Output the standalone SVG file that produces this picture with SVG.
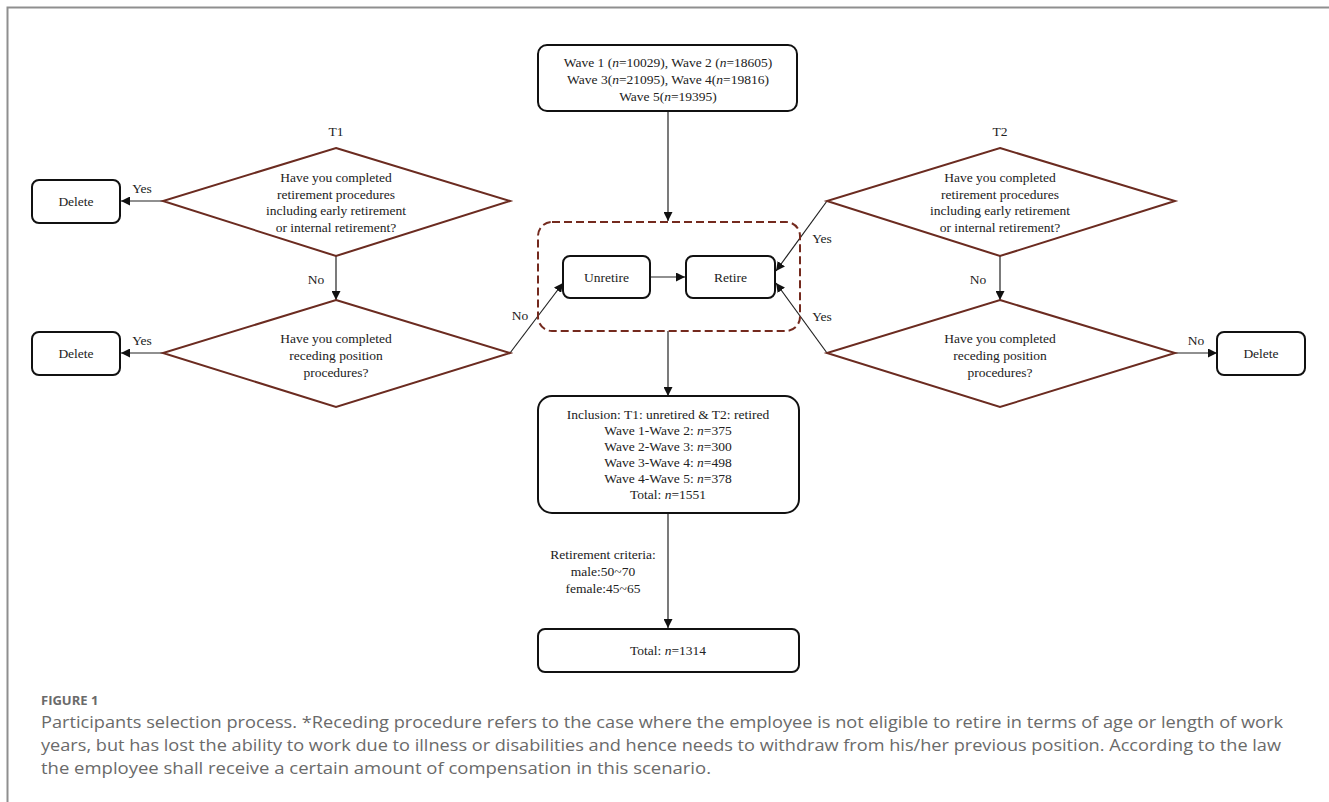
<svg xmlns="http://www.w3.org/2000/svg" width="1329" height="802" viewBox="0 0 1329 802">
<style>
.t{font-family:"Liberation Serif","Times New Roman",serif;font-size:13.5px;fill:#222;text-anchor:middle;dominant-baseline:central}
.i{font-style:italic}
.box{fill:#fff;stroke:#111;stroke-width:2}
.dia{fill:#fff;stroke:#6b2b20;stroke-width:2}
.con{fill:none;stroke:#222;stroke-width:1.2}
.cap{font-family:"Open Sans","Noto Sans",sans-serif;fill:#6a6a6a}
</style>
<defs>
<marker id="ah" viewBox="0 0 10 10" refX="10" refY="5" markerWidth="9" markerHeight="9" markerUnits="userSpaceOnUse" orient="auto">
<path d="M0,0 L10,5 L0,10 z" fill="#111"/>
</marker>
</defs>
<rect width="1329" height="802" fill="#fff"/>
<g id="frame"><path d="M1329,7.5 H7.5 V802" fill="none" stroke="#8f8f8f" stroke-width="2"/></g>

<g id="connectors">
<line class="con" x1="668" y1="111" x2="668" y2="221" marker-end="url(#ah)"/>
<line class="con" x1="163" y1="201" x2="121" y2="201" marker-end="url(#ah)"/>
<line class="con" x1="336" y1="256" x2="336" y2="300" marker-end="url(#ah)"/>
<line class="con" x1="163" y1="353" x2="121" y2="353" marker-end="url(#ah)"/>
<line class="con" x1="510" y1="353" x2="563" y2="283" marker-end="url(#ah)"/>
<line class="con" x1="650" y1="277" x2="685" y2="277" marker-end="url(#ah)"/>
<line class="con" x1="827" y1="201" x2="776" y2="271" marker-end="url(#ah)"/>
<line class="con" x1="827" y1="353" x2="776" y2="283" marker-end="url(#ah)"/>
<line class="con" x1="1000" y1="256" x2="1000" y2="300" marker-end="url(#ah)"/>
<line class="con" x1="1175" y1="353" x2="1217" y2="353" marker-end="url(#ah)"/>
<line class="con" x1="668" y1="331" x2="668" y2="396" marker-end="url(#ah)"/>
<line class="con" x1="668" y1="513" x2="668" y2="628" marker-end="url(#ah)"/>
<text class="t" x="142" y="188">Yes</text>
<text class="t" x="142" y="340">Yes</text>
<text class="t" x="316" y="279">No</text>
<text class="t" x="520" y="315">No</text>
<text class="t" x="822" y="238">Yes</text>
<text class="t" x="822" y="316">Yes</text>
<text class="t" x="978" y="279">No</text>
<text class="t" x="1196" y="340">No</text>
<text class="t" x="603" y="554">Retirement criteria:</text>
<text class="t" x="603" y="571">male:50~70</text>
<text class="t" x="603" y="588">female:45~65</text>
</g>

<g id="waves">
<rect class="box" x="538" y="45" width="259" height="66" rx="9"/>
<text class="t" x="668" y="62">Wave 1 (<tspan class="i">n</tspan>=10029), Wave 2 (<tspan class="i">n</tspan>=18605)</text>
<text class="t" x="668" y="79">Wave 3(<tspan class="i">n</tspan>=21095), Wave 4(<tspan class="i">n</tspan>=19816)</text>
<text class="t" x="668" y="96">Wave 5(<tspan class="i">n</tspan>=19395)</text>
</g>

<g id="t1q1">
<text class="t" x="336" y="131">T1</text>
<polygon class="dia" points="336,148 510,201 336,256 163,201"/>
<text class="t" x="336" y="177">Have you completed</text>
<text class="t" x="336" y="194">retirement procedures</text>
<text class="t" x="336" y="210">including early retirement</text>
<text class="t" x="336" y="227">or internal retirement?</text>
</g>
<g id="t1q2">
<polygon class="dia" points="336,300 510,353 336,407 163,353"/>
<text class="t" x="336" y="338">Have you completed</text>
<text class="t" x="336" y="355">receding position</text>
<text class="t" x="336" y="372">procedures?</text>
</g>
<g id="delete1">
<rect class="box" x="32" y="180" width="88" height="43" rx="7"/>
<text class="t" x="76" y="201">Delete</text>
</g>
<g id="delete2">
<rect class="box" x="32" y="332" width="88" height="43" rx="7"/>
<text class="t" x="76" y="353">Delete</text>
</g>

<g id="t2q1">
<text class="t" x="1000" y="131">T2</text>
<polygon class="dia" points="1000,148 1175,201 1000,256 827,201"/>
<text class="t" x="1000" y="177">Have you completed</text>
<text class="t" x="1000" y="194">retirement procedures</text>
<text class="t" x="1000" y="210">including early retirement</text>
<text class="t" x="1000" y="227">or internal retirement?</text>
</g>
<g id="t2q2">
<polygon class="dia" points="1000,300 1175,353 1000,407 827,353"/>
<text class="t" x="1000" y="338">Have you completed</text>
<text class="t" x="1000" y="355">receding position</text>
<text class="t" x="1000" y="372">procedures?</text>
</g>
<g id="delete3">
<rect class="box" x="1217" y="332" width="88" height="43" rx="7"/>
<text class="t" x="1261" y="353">Delete</text>
</g>

<g id="status">
<rect x="538" y="222" width="262" height="109" rx="14" fill="none" stroke="#742a1e" stroke-width="2" stroke-dasharray="8,4"/>
</g>
<g id="unretire">
<rect class="box" x="563" y="256" width="87" height="42" rx="7"/>
<text class="t" x="606.5" y="277">Unretire</text>
</g>
<g id="retire">
<rect class="box" x="686" y="256" width="89" height="42" rx="7"/>
<text class="t" x="730.5" y="277">Retire</text>
</g>

<g id="inclusion">
<rect class="box" x="538" y="396" width="261" height="117" rx="14"/>
<text class="t" x="668" y="414">Inclusion: T1: unretired &amp; T2: retired</text>
<text class="t" x="668" y="430">Wave 1-Wave 2: <tspan class="i">n</tspan>=375</text>
<text class="t" x="668" y="446">Wave 2-Wave 3: <tspan class="i">n</tspan>=300</text>
<text class="t" x="668" y="462">Wave 3-Wave 4: <tspan class="i">n</tspan>=498</text>
<text class="t" x="668" y="478">Wave 4-Wave 5: <tspan class="i">n</tspan>=378</text>
<text class="t" x="668" y="494">Total: <tspan class="i">n</tspan>=1551</text>
</g>

<g id="final">
<rect class="box" x="538" y="629" width="261" height="43" rx="7"/>
<text class="t" x="668" y="650">Total: <tspan class="i">n</tspan>=1314</text>
</g>

<g id="caption">
<text class="cap" x="41" y="705" font-size="13" font-weight="bold" fill="#777">FIGURE 1</text>
<text class="cap" x="41" y="728" font-size="16" textLength="1242" lengthAdjust="spacingAndGlyphs">Participants selection process. *Receding procedure refers to the case where the employee is not eligible to retire in terms of age or length of work</text>
<text class="cap" x="41" y="751" font-size="16" textLength="1240" lengthAdjust="spacingAndGlyphs">years, but has lost the ability to work due to illness or disabilities and hence needs to withdraw from his/her previous position. According to the law</text>
<text class="cap" x="41" y="774" font-size="16" textLength="670" lengthAdjust="spacingAndGlyphs">the employee shall receive a certain amount of compensation in this scenario.</text>
</g>
</svg>
